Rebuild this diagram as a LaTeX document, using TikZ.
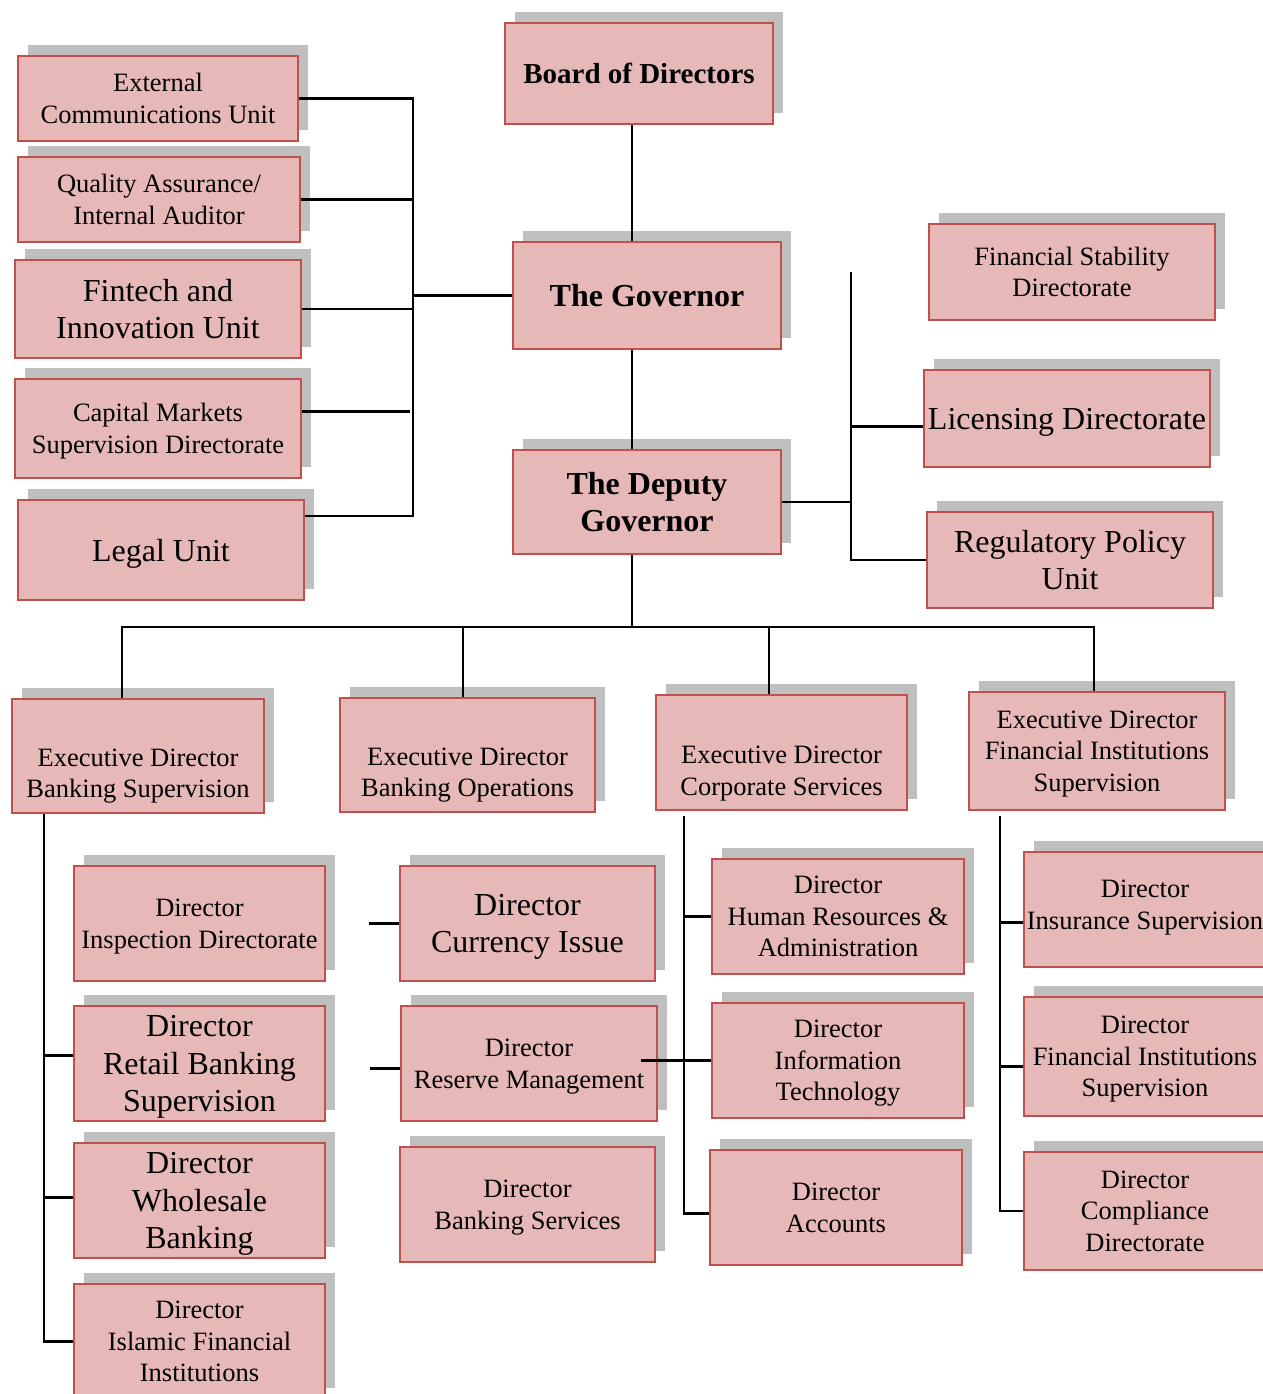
\documentclass[tikz,border=0pt]{standalone}
\usepackage{fontspec}
\setmainfont{Liberation Serif}
\usetikzlibrary{shadows}
\definecolor{boxpink}{HTML}{E6B9B8}
\definecolor{boxred}{HTML}{C0504D}
\definecolor{shadowgray}{HTML}{BFBFBF}

\begin{document}
\begin{tikzpicture}[x=1pt, y=-1pt,
    box/.style 2 args={draw=boxred, fill=boxpink, line width=2pt, inner sep=0pt,
      minimum width=#1pt, minimum height=#2pt, align=center, text depth=-5pt,
      drop shadow={shadow xshift=10pt, shadow yshift=11pt, fill=shadowgray, opacity=1}},
    txt/.style={font=\fontsize{26.5}{31.5}\selectfont},
    big/.style={font=\fontsize{32}{37.5}\selectfont},
    head/.style={font=\bfseries\fontsize{32}{37.5}\selectfont},
    movedtext/.style 2 args={label={[txt, align=center, yshift=#1pt]center:#2}},
    link/.style={line width=2.4pt, black}]
  \useasboundingbox (0,0) rectangle (1262,1394);

  \node[box={268}{101}, font=\bfseries\fontsize{29}{34}\selectfont] (board) at (639,73.5) {Board of Directors};
  \node[box={268}{107}, head] (gov) at (647,295.5) {The Governor};
  \node[box={268}{104}, head] (dep) at (647,502) {The Deputy\\Governor};

  \node[box={280}{85}, txt] (ext) at (158,98.5) {External\\Communications Unit};
  \node[box={282}{85}, txt] (qa) at (159,199.5) {Quality Assurance/\\Internal Auditor};
  \node[box={286}{98}, big] (fin) at (158,309) {Fintech and\\Innovation Unit};
  \node[box={286}{99}, txt] (cap) at (158,428.5) {Capital Markets\\Supervision Directorate};
  \node[box={286}{100}, big] (legal) at (161,550) {Legal Unit};

  \node[box={286}{96}, txt] (fsd) at (1072,272) {Financial Stability\\Directorate};
  \node[box={286}{97}, big] (lic) at (1067,418.5) {Licensing Directorate};
  \node[box={286}{96}, big] (reg) at (1070,560) {Regulatory Policy\\Unit};

  \node[box={252}{114}, movedtext={-20}{Executive Director\\Banking Supervision}] (edbs) at (138,756) {};
  \node[box={255}{114}, movedtext={-20}{Executive Director\\Banking Operations}] (edbo) at (467.5,755) {};
  \node[box={251}{115}, movedtext={-21}{Executive Director\\Corporate Services}] (edcs) at (781.5,752.5) {};
  \node[box={256}{118}, txt] (edfis) at (1097,751) {Executive Director\\Financial Institutions\\Supervision};

  \node[box={251}{115}, txt] (dinsp) at (199.5,923.5) {Director\\Inspection Directorate};
  \node[box={251}{115}, big] (dretail) at (199.5,1063.5) {Director\\Retail Banking\\Supervision};
  \node[box={251}{115}, big] (dwhole) at (199.5,1200.5) {Director\\Wholesale\\Banking};
  \node[box={251}{115}, txt] (dislamic) at (199.5,1341.5) {Director\\Islamic Financial\\Institutions};

  \node[box={255}{115}, big] (dcur) at (527.5,923.5) {Director\\Currency Issue};
  \node[box={256}{115}, txt] (dres) at (529,1063.5) {Director\\Reserve Management};
  \node[box={255}{115}, txt] (dbs) at (527.5,1204.5) {Director\\Banking Services};

  \node[box={252}{115}, txt] (dhr) at (838,916.5) {Director\\Human Resources \&\\Administration};
  \node[box={252}{115}, txt] (dit) at (838,1060.5) {Director\\Information\\Technology};
  \node[box={252}{115}, txt] (dacc) at (836,1207.5) {Director\\Accounts};

  \node[box={242}{115}, movedtext={2}{Director\\Insurance Supervision}] (dins) at (1145,909.5) {};
  \node[box={242}{119}, txt] (dfis) at (1145,1056.5) {Director\\Financial Institutions\\Supervision};
  \node[box={242}{118}, txt] (dcomp) at (1145,1211) {Director\\Compliance\\Directorate};

  \coordinate (spine) at (632,0);
  \coordinate (lbus) at (413,0);
  \coordinate (rbus) at (851,0);
  \coordinate (hbus) at (0,627);
  \coordinate (bscol) at (44,0);
  \coordinate (cscol) at (684,0);
  \coordinate (fiscol) at (1000,0);

  \draw[link] (board.south -| spine) -- (gov.north -| spine);
  \draw[link] (gov.south -| spine) -- (dep.north -| spine);

  \draw[link] (gov.west) -- (gov.west -| lbus);
  \draw[link] (ext.east) -| ([yshift=34pt]lbus |- legal.east) -- ([yshift=34pt]legal.east);
  \draw[link] (qa.east) -- (qa.east -| lbus);
  \draw[link] (fin.east) -- (fin.east -| lbus);
  \draw[link] ([yshift=17pt]cap.east) -- ([yshift=17pt, xshift=-3pt]cap.east -| lbus);

  \draw[link] (rbus |- fsd.west) -- (rbus |- reg.west) -- (reg.west);
  \draw[link] (dep.east) -- (dep.east -| rbus);
  \draw[link] ([yshift=-8pt]lic.west) -- ([yshift=-8pt]lic.west -| rbus);

  \draw[link] (dep.south -| spine) -- (spine |- hbus);
  \draw[link] ([xshift=-16pt]edbs.north) |- ([xshift=-3pt]edfis.north |- hbus) -- ([xshift=-3pt]edfis.north);
  \draw[link] ([xshift=-4.5pt]edbo.north) -- ([xshift=-4.5pt]edbo.north |- hbus);
  \draw[link] ([xshift=-12.5pt]edcs.north) -- ([xshift=-12.5pt]edcs.north |- hbus);

  \draw[link] (edbs.south -| bscol) |- (dislamic.west);
  \draw[link] ([yshift=8pt]dretail.west) -- ([yshift=8pt]dretail.west -| bscol);
  \draw[link] ([yshift=3pt]dwhole.west) -- ([yshift=3pt]dwhole.west -| bscol);

  \draw[link] (dcur.west) -- ++(-30,0);
  \draw[link] ([yshift=-5pt]dres.west) -- ++(-30,0);

  \draw[link] ([yshift=-5pt]edcs.south -| cscol) |- ([yshift=-6pt]dacc.west);
  \draw[link] (dhr.west) -- (dhr.west -| cscol);
  \draw[link] ([xshift=-17pt]dres.east |- dit.west) -- (dit.west);

  \draw[link] ([yshift=-5pt]edfis.south -| fiscol) |- (dcomp.west);
  \draw[link] ([yshift=-13pt]dins.west) -- ([yshift=-13pt]dins.west -| fiscol);
  \draw[link] ([yshift=-10pt]dfis.west) -- ([yshift=-10pt]dfis.west -| fiscol);
\end{tikzpicture}
\end{document}
